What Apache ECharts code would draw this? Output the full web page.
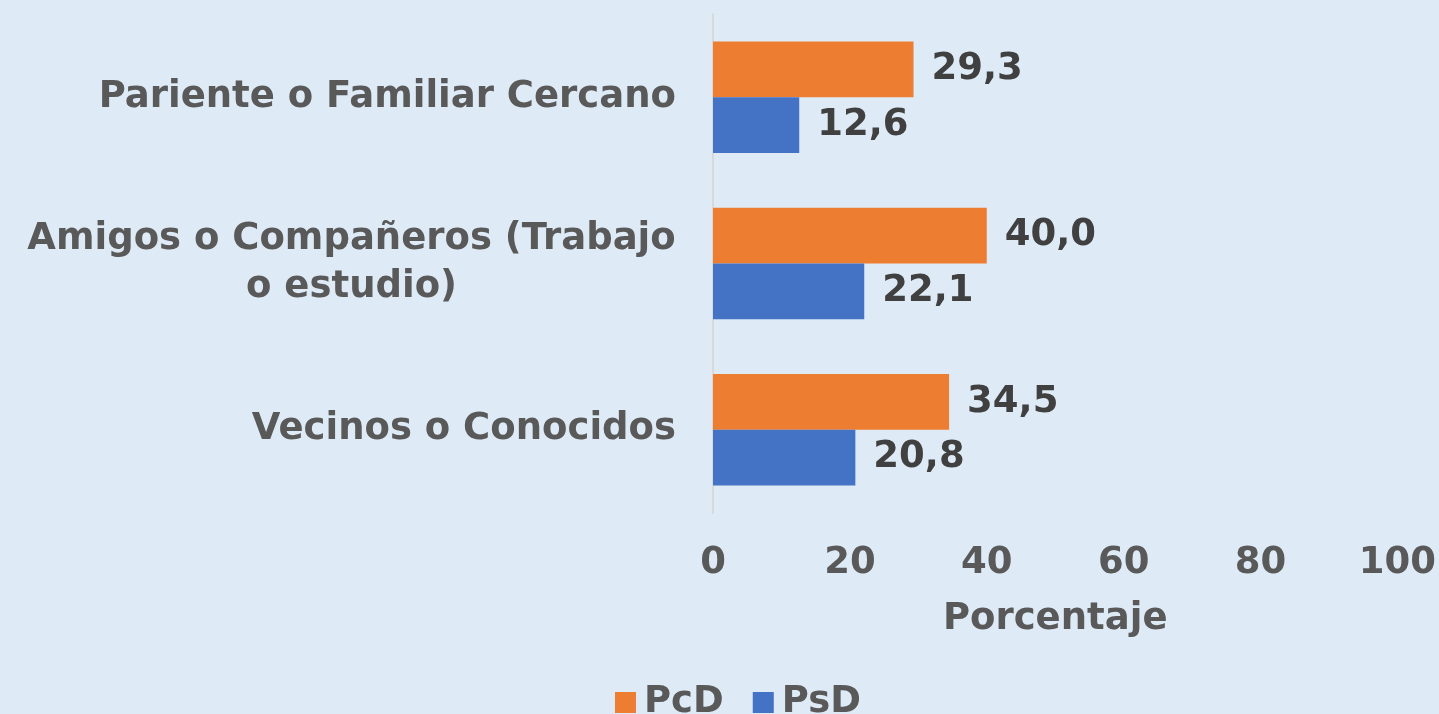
<!DOCTYPE html>
<html>
<head>
<meta charset="utf-8">
<title>PcD / PsD</title>
<script src="https://cdn.jsdelivr.net/npm/echarts@6/dist/echarts.min.js"></script>
<style>
  html, body {
    margin: 0;
    padding: 0;
    background: #deebf7;
  }
  #chart {
    width: 1439px;
    height: 714px;
  }
</style>
</head>
<body>
<div id="chart"></div>
<script>
// categorias, de abajo hacia arriba (eje y)
const categories = [
  'Vecinos o Conocidos',
  'Amigos o Compañeros (Trabajo\no estudio)',
  'Pariente o Familiar Cercano'
]
const pcdValues = [34.5, 40.0, 29.3]
const psdValues = [20.8, 22.1, 12.6]
const xTicks = [0, 20, 40, 60, 80, 100]

const FONT = 'DejaVu Sans'
const FONT_SIZE = 37

// ancho de la linea mas larga, para centrar las etiquetas de varias lineas
const measureCtx = document.createElement('canvas').getContext('2d')
measureCtx.font = `bold ${FONT_SIZE}px "${FONT}"`
const lineWidth = text => Math.ceil(
  Math.max(...text.split('\n').map(l => measureCtx.measureText(l).width))
)

const fmtComma = v => v.toFixed(1).replace('.', ',')

const chart = echarts.init(document.getElementById('chart'))

const valueLabel = {
  show: true,
  position: 'right',
  distance: 18,
  formatter: p => fmtComma(p.value),
  fontFamily: FONT,
  fontWeight: 'bold',
  fontSize: FONT_SIZE,
  color: '#404040'
}

const option = {
  backgroundColor: '#deebf7',
  animation: false,
  textStyle: { fontFamily: FONT },
  grid: {
    left: 713,
    right: 41,
    top: 14,
    bottom: 201,
    containLabel: false
  },
  legend: {
    data: ['PcD', 'PsD'],
    left: 610,
    top: 679,
    icon: 'rect',
    itemWidth: 21,
    itemHeight: 21,
    itemGap: 29,
    textStyle: {
      fontFamily: FONT,
      fontWeight: 'bold',
      fontSize: FONT_SIZE,
      color: '#595959',
      padding: [0, 0, 0, 3]
    }
  },
  xAxis: {
    type: 'value',
    min: xTicks[0],
    max: xTicks[xTicks.length - 1],
    interval: xTicks[1] - xTicks[0],
    name: 'Porcentaje',
    nameLocation: 'middle',
    nameGap: 88,
    nameTextStyle: {
      fontFamily: FONT,
      fontWeight: 'bold',
      fontSize: FONT_SIZE,
      color: '#595959'
    },
    axisLine: { show: false },
    axisTick: { show: false },
    splitLine: { show: false },
    axisLabel: {
      margin: 32,
      fontFamily: FONT,
      fontWeight: 'bold',
      fontSize: FONT_SIZE,
      color: '#595959'
    }
  },
  yAxis: {
    type: 'category',
    data: categories,
    axisLine: { show: true, lineStyle: { color: '#d9d9d9', width: 2 } },
    axisTick: { show: false },
    axisLabel: {
      margin: 37,
      fontFamily: FONT,
      fontWeight: 'bold',
      fontSize: FONT_SIZE,
      lineHeight: 48,
      color: '#595959',
      formatter: v => v.indexOf('\n') >= 0 ? `{c|${v}}` : v,
      rich: {
        c: {
          width: lineWidth(categories[1]),
          align: 'center',
          fontFamily: FONT,
          fontWeight: 'bold',
          fontSize: FONT_SIZE,
          lineHeight: 48,
          color: '#595959'
        }
      }
    }
  },
  series: [
    {
      name: 'PcD',
      type: 'bar',
      data: pcdValues,
      barGap: '0%',
      barCategoryGap: '33%',
      itemStyle: { color: '#ed7d31' },
      label: valueLabel
    },
    {
      name: 'PsD',
      type: 'bar',
      data: psdValues,
      barGap: '0%',
      barCategoryGap: '33%',
      itemStyle: { color: '#4472c4' },
      label: valueLabel
    }
  ]
}

chart.setOption(option)
</script>
</body>
</html>
